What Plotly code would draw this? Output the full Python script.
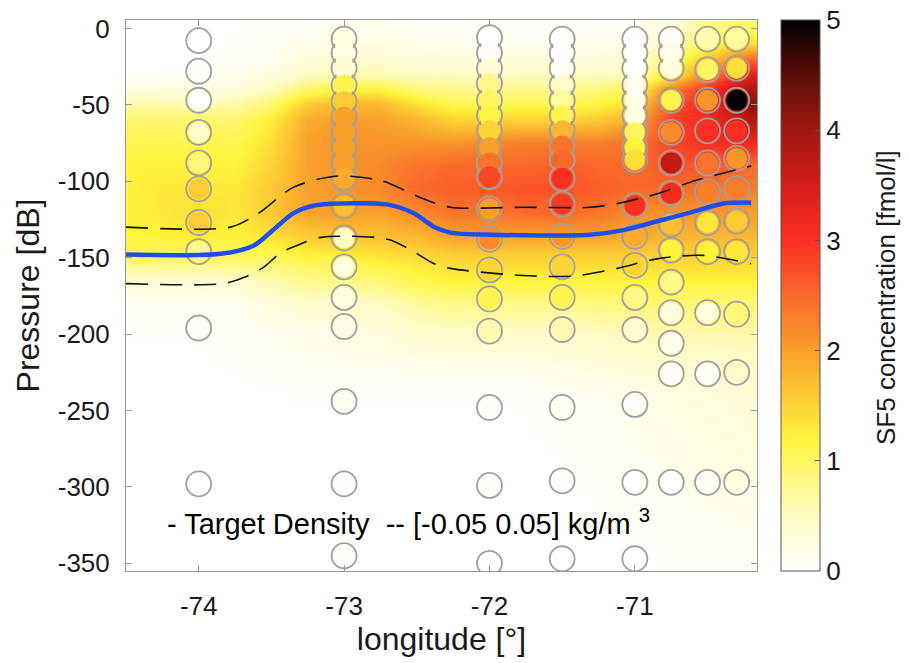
import plotly.graph_objects as go

# ---------------- gridded SF5 field ----------------
grid_lon = [-74.5, -74.25, -74.0, -73.75, -73.5, -73.25, -73.0, -72.75, -72.5,
            -72.25, -72.0, -71.75, -71.5, -71.25, -71.0, -70.75, -70.5, -70.2]
grid_pressure = [0, -10, -20, -30, -40, -50, -60, -75, -90, -105, -120, -135,
                 -150, -165, -180, -200, -220, -240, -270, -300, -330, -360]
sf5_p0 = [0.0, 0.0, 0.0, 0.02, 0.05, 0.1, 0.15, 0.15, 0.1, 0.1, 0.05, 0.05, 0.05, 0.1, 0.1, 0.3, 0.8, 1.0]
sf5_p10 = [0.0, 0.0, 0.0, 0.05, 0.1, 0.2, 0.25, 0.25, 0.2, 0.15, 0.15, 0.15, 0.15, 0.15, 0.2, 0.5, 1.1, 1.4]
sf5_p20 = [0.0, 0.0, 0.02, 0.1, 0.15, 0.3, 0.35, 0.35, 0.3, 0.3, 0.3, 0.3, 0.3, 0.3, 0.4, 0.9, 1.6, 2.5]
sf5_p30 = [0.05, 0.05, 0.1, 0.15, 0.3, 0.5, 0.6, 0.6, 0.5, 0.5, 0.5, 0.5, 0.5, 0.5, 0.6, 1.2, 2.3, 3.3]
sf5_p40 = [0.3, 0.3, 0.25, 0.3, 0.55, 1.0, 1.2, 1.2, 0.9, 0.8, 0.8, 0.8, 0.8, 0.9, 1.1, 2.3, 3.0, 3.9]
sf5_p50 = [0.65, 0.65, 0.6, 0.65, 0.95, 1.6, 1.8, 1.8, 1.4, 1.1, 1.1, 1.1, 1.1, 1.2, 1.4, 2.7, 3.1, 4.2]
sf5_p60 = [0.95, 0.95, 0.95, 0.95, 1.25, 1.9, 2.0, 2.0, 1.8, 1.5, 1.5, 1.5, 1.5, 1.6, 1.9, 2.8, 3.1, 3.8]
sf5_p75 = [1.1, 1.1, 1.1, 1.1, 1.4, 2.0, 2.1, 2.1, 2.1, 2.1, 2.2, 2.3, 2.3, 2.3, 2.4, 2.8, 3.0, 3.1]
sf5_p90 = [1.2, 1.2, 1.2, 1.2, 1.5, 2.0, 2.1, 2.2, 2.4, 2.5, 2.5, 2.5, 2.6, 2.5, 2.5, 2.7, 2.6, 2.5]
sf5_p105 = [1.2, 1.3, 1.3, 1.3, 1.6, 2.0, 2.1, 2.2, 2.5, 2.6, 2.6, 2.7, 2.7, 2.6, 2.5, 2.5, 2.4, 2.3]
sf5_p120 = [1.2, 1.3, 1.4, 1.3, 1.6, 2.0, 2.0, 2.0, 2.2, 2.4, 2.4, 2.5, 2.5, 2.4, 2.2, 2.1, 2.1, 2.0]
sf5_p135 = [1.2, 1.2, 1.3, 1.2, 1.4, 1.6, 1.7, 1.7, 1.8, 2.0, 2.0, 2.0, 2.0, 2.0, 1.9, 1.8, 1.8, 1.8]
sf5_p150 = [1.0, 1.0, 1.0, 1.0, 1.0, 1.15, 1.2, 1.3, 1.4, 1.5, 1.5, 1.5, 1.5, 1.5, 1.5, 1.5, 1.5, 1.5]
sf5_p165 = [0.35, 0.35, 0.35, 0.4, 0.6, 0.8, 0.8, 0.9, 1.1, 1.2, 1.2, 1.2, 1.2, 1.2, 1.2, 1.2, 1.2, 1.2]
sf5_p180 = [0.12, 0.12, 0.12, 0.15, 0.3, 0.4, 0.45, 0.5, 0.7, 0.8, 0.8, 0.8, 0.8, 0.85, 0.9, 0.9, 0.9, 0.9]
sf5_p200 = [0.05, 0.05, 0.05, 0.08, 0.15, 0.2, 0.25, 0.3, 0.4, 0.45, 0.45, 0.45, 0.45, 0.5, 0.55, 0.6, 0.6, 0.6]
sf5_p220 = [0.0, 0.0, 0.02, 0.05, 0.1, 0.15, 0.15, 0.15, 0.2, 0.2, 0.2, 0.2, 0.25, 0.3, 0.35, 0.4, 0.4, 0.45]
sf5_p240 = [0.0, 0.0, 0.0, 0.0, 0.02, 0.05, 0.05, 0.05, 0.05, 0.05, 0.05, 0.05, 0.1, 0.15, 0.2, 0.25, 0.3, 0.35]
sf5_p270 = [0.0, 0.0, 0.0, 0.0, 0.0, 0.0, 0.0, 0.0, 0.0, 0.0, 0.0, 0.02, 0.05, 0.1, 0.15, 0.2, 0.25, 0.3]
sf5_p300 = [0.0, 0.0, 0.0, 0.0, 0.0, 0.0, 0.0, 0.0, 0.0, 0.0, 0.0, 0.0, 0.02, 0.05, 0.1, 0.15, 0.2, 0.25]
sf5_p330 = [0.0, 0.0, 0.0, 0.0, 0.0, 0.0, 0.0, 0.0, 0.0, 0.0, 0.0, 0.0, 0.0, 0.02, 0.05, 0.08, 0.12, 0.15]
sf5_p360 = [0.0, 0.0, 0.0, 0.0, 0.0, 0.0, 0.0, 0.0, 0.0, 0.0, 0.0, 0.0, 0.0, 0.0, 0.0, 0.02, 0.05, 0.08]
sf5_grid = [sf5_p0, sf5_p10, sf5_p20, sf5_p30, sf5_p40, sf5_p50, sf5_p60, sf5_p75,
            sf5_p90, sf5_p105, sf5_p120, sf5_p135, sf5_p150, sf5_p165, sf5_p180,
            sf5_p200, sf5_p220, sf5_p240, sf5_p270, sf5_p300, sf5_p330, sf5_p360]

# ---------------- bottle samples per station ----------------
station_lon = [-74.0, -73.0, -72.0, -71.5, -71.0, -70.75, -70.5, -70.3]
station_pressure = [
    [-8, -28, -47, -68, -88, -105, -127, -146, -196, -298],
    [-7, -16, -26, -37, -48, -58, -68, -78, -88, -98, -116, -137, -156, -176, -195, -244, -298, -345],
    [-6, -16, -26, -36, -47, -57, -67, -78, -88, -97, -118, -138, -158, -177, -198, -248, -299, -350],
    [-7, -16, -26, -37, -47, -57, -67, -77, -86, -98, -115, -136, -156, -176, -197, -248, -296, -347],
    [-7, -16, -26, -37, -47, -57, -68, -78, -86, -116, -136, -155, -176, -197, -246, -297, -347],
    [-7, -16, -26, -47, -68, -88, -108, -128, -145, -166, -186, -206, -226, -297],
    [-7, -27, -47, -67, -88, -107, -127, -146, -186, -226, -297],
    [-7, -26, -47, -67, -85, -105, -126, -146, -187, -225, -297],
]
station_sf5 = [
    [0.0, 0.05, 0.0, 0.45, 0.9, 1.6, 1.6, 0.8, 0.05, 0.0],
    [0.3, 0.3, 0.35, 1.1, 1.6, 2.0, 2.0, 2.0, 2.0, 1.9, 1.7, 0.5, 0.3, 0.25, 0.2, 0.15, 0.05, 0.05],
    [0.0, 0.05, 0.35, 0.8, 1.0, 1.15, 1.5, 2.0, 2.4, 2.8, 2.0, 2.2, 1.5, 1.1, 0.6, 0.05, 0.05, 0.0],
    [0.0, 0.02, 0.05, 0.45, 0.7, 1.1, 1.8, 2.4, 2.5, 3.0, 2.9, 2.1, 1.5, 1.1, 0.6, 0.1, 0.05, 0.02],
    [0.0, 0.0, 0.0, 0.15, 0.2, 0.25, 1.0, 1.2, 1.4, 3.0, 1.9, 1.5, 0.8, 0.4, 0.05, 0.02, 0.02],
    [0.05, 0.2, 0.3, 1.1, 2.2, 3.7, 3.1, 1.7, 1.2, 0.8, 0.3, 0.15, 0.05, 0.02],
    [0.6, 1.0, 2.1, 3.0, 2.4, 2.3, 1.3, 1.2, 0.3, 0.05, 0.05],
    [0.7, 1.4, 5.0, 3.0, 2.1, 2.3, 1.6, 1.3, 0.9, 0.5, 0.3],
]

# ---------------- target density and envelope ----------------
target_lon = [-74.5, -73.85, -73.62, -73.49, -73.35, -73.21, -72.70, -72.52, -72.38,
              -72.27, -71.99, -71.31, -71.08, -70.84, -70.62, -70.39, -70.2]
target_p = [-148, -147.5, -142, -132, -121, -116, -115.3, -121, -130,
            -133.6, -135, -135, -132, -126, -120.5, -114.6, -114]
upper_lon = [-74.5, -73.78, -73.59, -73.35, -73.06, -72.75, -72.46, -72.27,
             -71.77, -71.31, -71.12, -70.84, -70.62, -70.2]
upper_p = [-130, -130, -121, -104, -96.7, -99.5, -111.3, -117,
           -117, -117, -114.6, -108, -100.6, -90]
lower_lon = [-74.5, -73.83, -73.69, -73.55, -73.44, -73.30, -73.16, -72.96, -72.70,
             -72.54, -72.38, -72.27, -71.77, -71.42, -71.12, -70.84, -70.53, -70.2]
lower_p = [-167, -167, -163, -156, -147, -141, -136.7, -136, -138,
           -145, -154, -157, -161.7, -162, -157, -150.6, -148.5, -154]

x_ticks = [-74, -73, -72, -71]
y_ticks = [0, -50, -100, -150, -200, -250, -300, -350]
cbar_ticks = [0, 1, 2, 3, 4, 5]
SF5_MAX = 5.001

colorscale = [
    [0.0, '#ffffff'], [0.1, '#fffbc4'], [0.24, '#fff33c'], [0.4, '#f9a02b'],
    [0.5, '#f9692a'], [0.6, '#fd2f22'], [0.7, '#d41c18'], [0.8, '#a01810'],
    [0.9, '#5a0d07'], [1.0, '#000000'],
]

FONT = 'Liberation Sans, Arial, sans-serif'
TXT = '#1a1a1a'

fig = go.Figure()

fig.add_trace(go.Heatmap(
    x=grid_lon, y=grid_pressure, z=sf5_grid, zmin=0, zmax=SF5_MAX,
    colorscale=colorscale, zsmooth='best', hoverinfo='skip',
    colorbar=dict(
        x=1.038, xanchor='left', xpad=0, y=0.5, yanchor='middle', ypad=0,
        len=1.0, lenmode='fraction',
        thickness=39, outlinecolor='#555555', outlinewidth=1,
        ticks='inside', ticklen=5, tickcolor='#555555',
        tickvals=cbar_ticks, ticktext=[str(v) for v in cbar_ticks],
        ticklabeloverflow='allow',
        tickfont=dict(family=FONT, size=26, color=TXT),
    ),
))

ring_x, ring_y, fill_c = [], [], []
for lon, ps, vs in zip(station_lon, station_pressure, station_sf5):
    for p, v in zip(ps, vs):
        ring_x.append(lon)
        ring_y.append(p)
        fill_c.append(v)

fig.add_trace(go.Scatter(
    x=ring_x, y=ring_y, mode='markers', hoverinfo='skip', showlegend=False,
    marker=dict(symbol='circle-open', size=25, color='#a0a0a0', line=dict(width=1.8, color='#a0a0a0')),
))
fig.add_trace(go.Scatter(
    x=ring_x, y=ring_y, mode='markers', showlegend=False, hoverinfo='skip',
    marker=dict(symbol='circle', size=21, color=fill_c, cmin=0, cmax=SF5_MAX,
                colorscale=colorscale, showscale=False, line=dict(width=0)),
))

for lx, lp in ((upper_lon, upper_p), (lower_lon, lower_p)):
    fig.add_trace(go.Scatter(
        x=lx, y=lp, mode='lines', showlegend=False, hoverinfo='skip',
        line=dict(color='#111111', width=1.6, dash='22px,12px', shape='spline', smoothing=0.8),
    ))

fig.add_trace(go.Scatter(
    x=target_lon, y=target_p, mode='lines', showlegend=False, hoverinfo='skip',
    line=dict(color='#1f4ef0', width=4.5, shape='spline', smoothing=0.8),
))

fig.add_annotation(
    x=-74.23, y=-323, xref='x', yref='y', xanchor='left', yanchor='middle',
    showarrow=False,
    text='- Target Density\u00a0\u00a0-- [-0.05 0.05] kg/m <sup>3</sup>',
    font=dict(family=FONT, size=29, color='#000000'),
)

# colorbar title (placed as rotated text to match its position)
fig.add_annotation(
    x=1.2045, y=0.4955, xref='paper', yref='paper', xanchor='center', yanchor='middle',
    showarrow=False, textangle=-90,
    text='SF5 concentration [fmol/l]',
    font=dict(family=FONT, size=26, color=TXT),
)

axis_common = dict(
    showgrid=False, zeroline=False, showline=True, linecolor='#9a9a9a', linewidth=1,
    mirror='ticks', ticks='inside', ticklen=6, tickcolor='#9a9a9a',
    tickfont=dict(family=FONT, size=26, color=TXT),
)

fig.update_xaxes(
    range=[-74.5, -70.16], tickvals=x_ticks, ticktext=[str(v) for v in x_ticks],
    ticklabelstandoff=12,
    title=dict(text='longitude [°]', font=dict(family=FONT, size=32, color=TXT), standoff=4),
    **axis_common,
)
fig.update_yaxes(
    range=[-355, 5.5], tickvals=y_ticks, ticktext=[str(v) for v in y_ticks],
    ticklabelstandoff=10,
    title=dict(text='Pressure [dB]', font=dict(family=FONT, size=32, color=TXT), standoff=8),
    **axis_common,
)

fig.update_layout(
    width=909, height=663,
    margin=dict(l=126, r=152, t=20, b=92, autoexpand=False),
    paper_bgcolor='white', plot_bgcolor='white',
    showlegend=False,
)

# remove the default page margin so the figure sits at the window's top-left corner
fig.write_html('out.html', config={'displayModeBar': False},
               post_script="document.body.style.margin='0';")
